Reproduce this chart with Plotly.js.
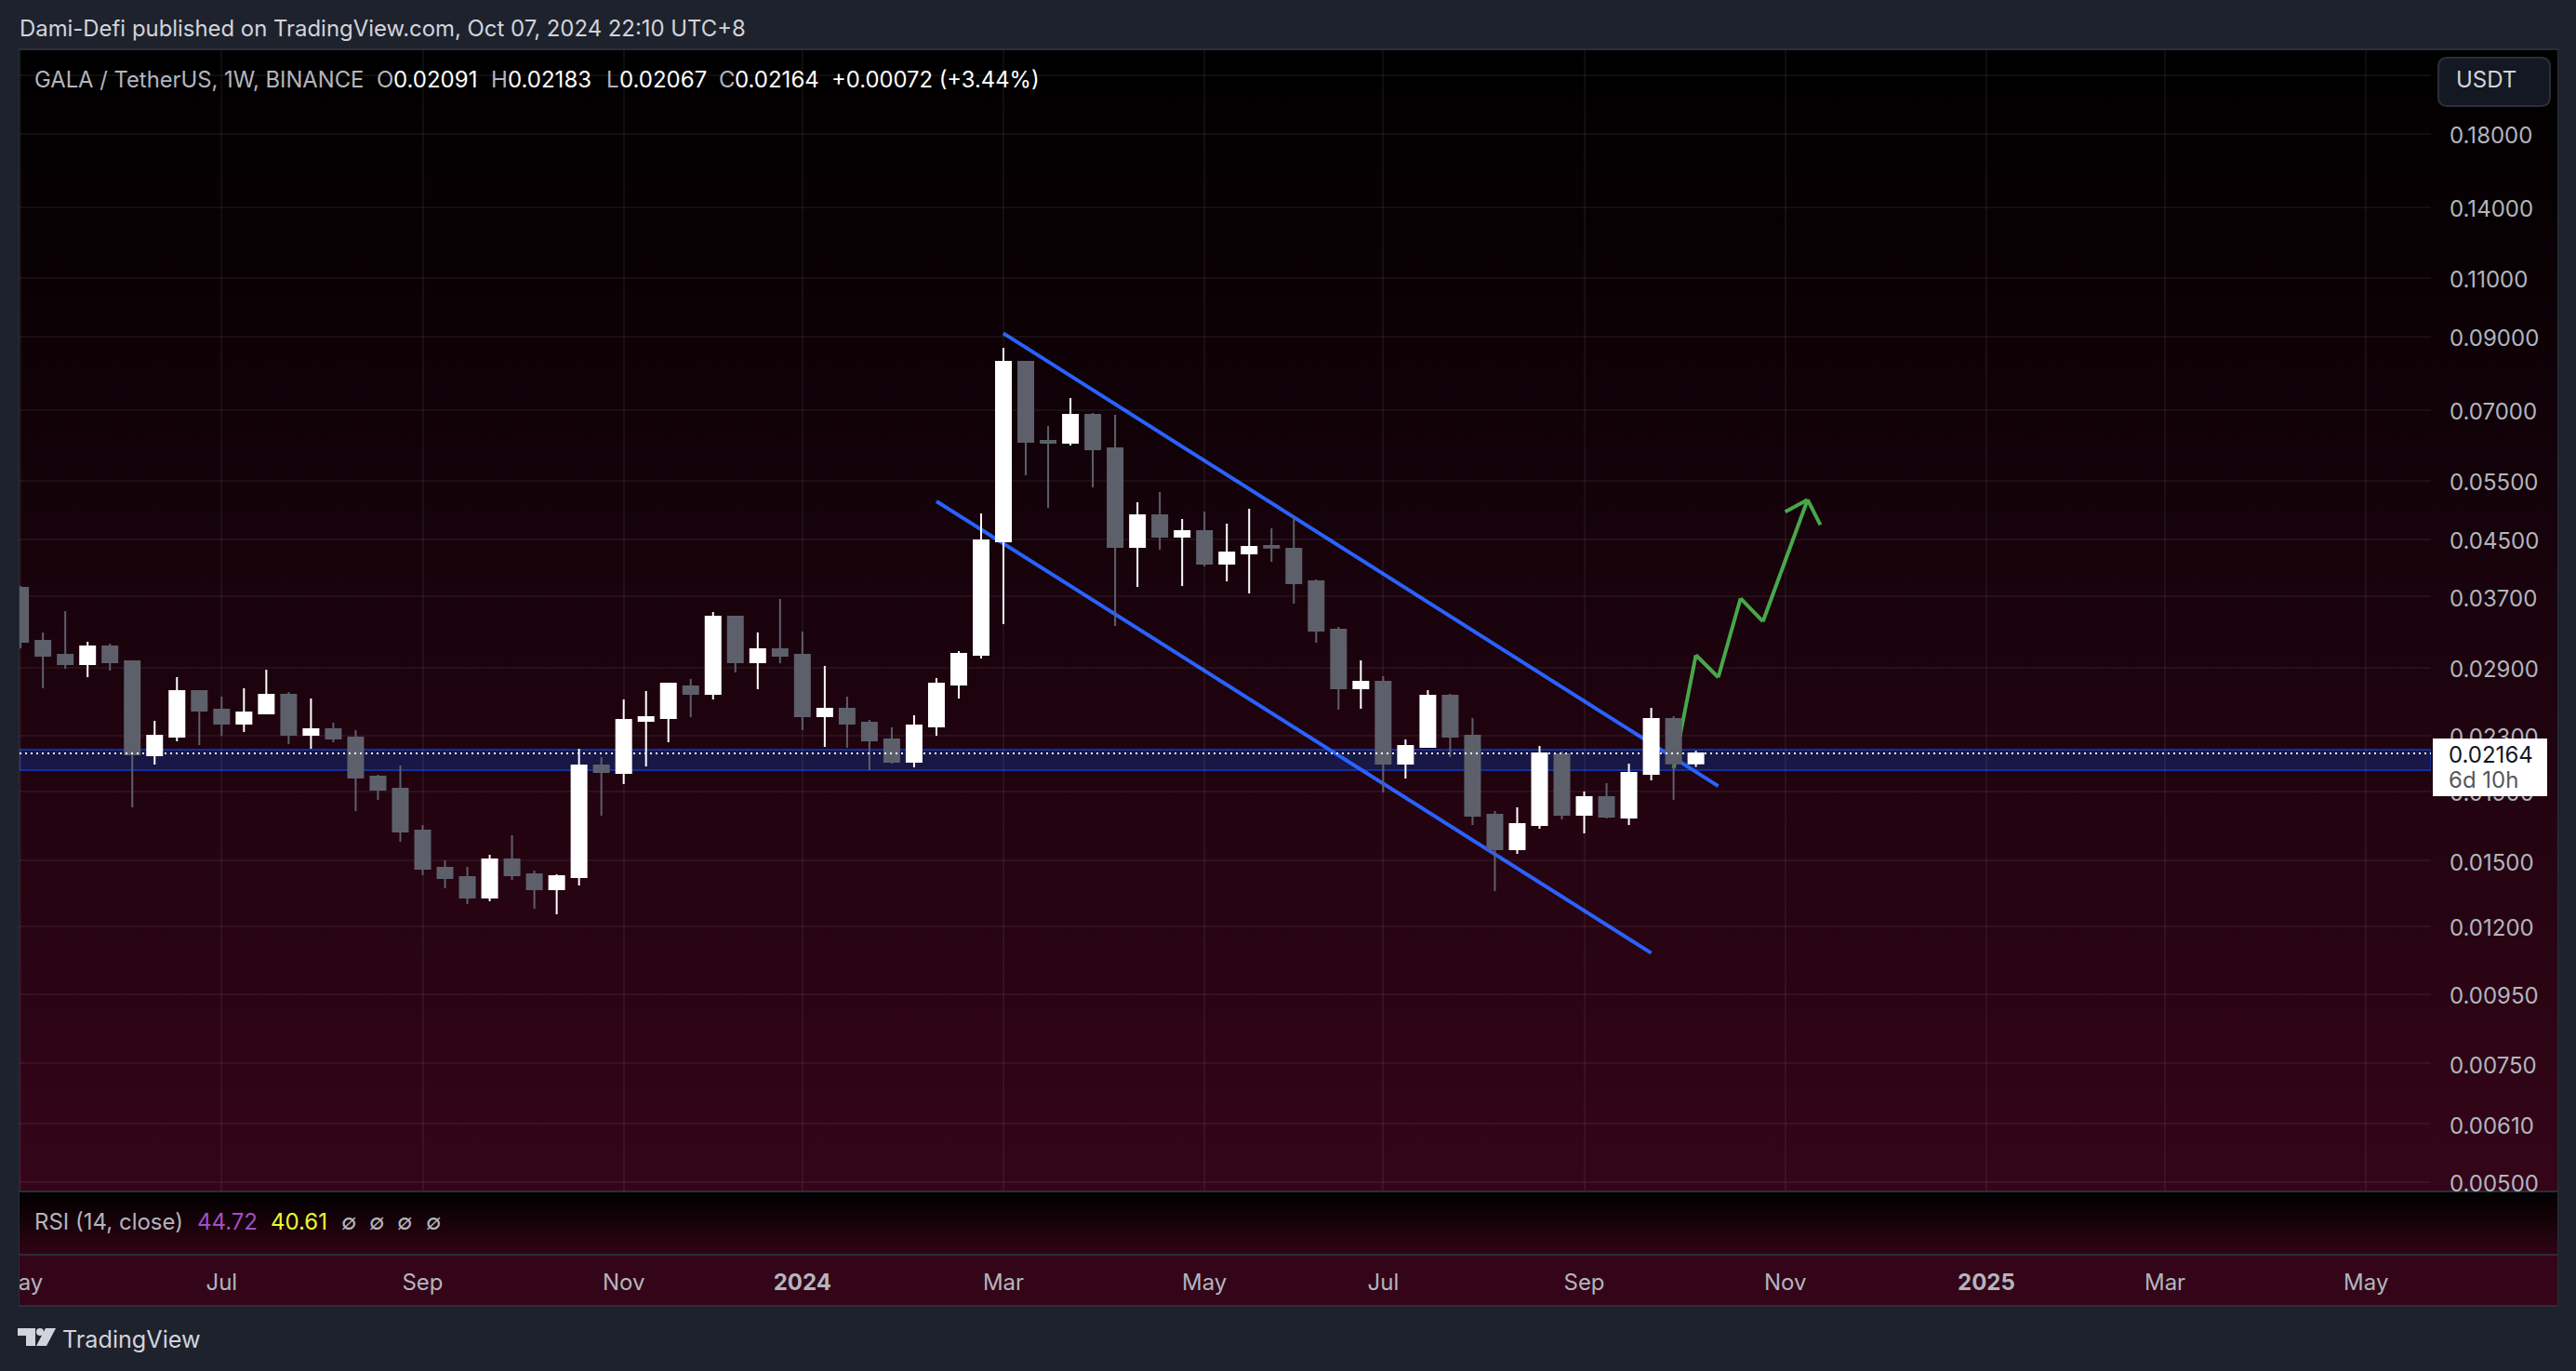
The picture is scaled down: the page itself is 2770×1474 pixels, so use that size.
<!DOCTYPE html>
<html>
<head>
<meta charset="utf-8">
<script src="https://cdn.plot.ly/plotly-3.0.1.min.js"></script>
<style>
html,body{margin:0;padding:0;width:2770px;height:1474px;overflow:hidden;background:#1e222d}
.p{position:absolute}
#frame{left:20px;top:52px;width:2731px;height:1353px;background:#2a2e39}
#pane1{left:21px;top:54px;width:2729px;height:1226px;background:linear-gradient(#000000,#340518)}
#pane2{left:21px;top:1282px;width:2729px;height:66px;background:linear-gradient(#000000,#300414)}
#pane3{left:21px;top:1350px;width:2729px;height:53px;background:#340518}
#chart{left:0;top:0;width:2770px;height:1474px}
</style>
</head>
<body>
<div class="p" id="frame"></div>
<div class="p" id="pane1"></div>
<div class="p" id="pane2"></div>
<div class="p" id="pane3"></div>
<div class="p" id="chart"></div>
<script>
// ---------- data ----------
const dates = [
'2023-05-01','2023-05-08','2023-05-15','2023-05-22','2023-05-29','2023-06-05','2023-06-12','2023-06-19','2023-06-26',
'2023-07-03','2023-07-10','2023-07-17','2023-07-24','2023-07-31','2023-08-07','2023-08-14','2023-08-21','2023-08-28',
'2023-09-04','2023-09-11','2023-09-18','2023-09-25','2023-10-02','2023-10-09','2023-10-16','2023-10-23','2023-10-30',
'2023-11-06','2023-11-13','2023-11-20','2023-11-27','2023-12-04','2023-12-11','2023-12-18','2023-12-25',
'2024-01-01','2024-01-08','2024-01-15','2024-01-22','2024-01-29','2024-02-05','2024-02-12','2024-02-19','2024-02-26',
'2024-03-04','2024-03-11','2024-03-18','2024-03-25','2024-04-01','2024-04-08','2024-04-15','2024-04-22','2024-04-29',
'2024-05-06','2024-05-13','2024-05-20','2024-05-27','2024-06-03','2024-06-10','2024-06-17','2024-06-24',
'2024-07-01','2024-07-08','2024-07-15','2024-07-22','2024-07-29','2024-08-05','2024-08-12','2024-08-19','2024-08-26',
'2024-09-02','2024-09-09','2024-09-16','2024-09-23','2024-09-30','2024-10-07'];
const opens = [
.03812,.03180,.03032,.02937,.03120,.02965,.02151,.02292,.02679,
.02513,.02396,.02482,.02645,.02307,.02351,.02285,.01999,.01918,
.01663,.01464,.01418,.01322,.01507,.01432,.01361,.01418,.02077,
.02025,.02419,.02443,.02721,.02653,.03454,.02956,.03090,
.03032,.02458,.02521,.02404,.02270,.02104,.02374,.02739,.03032,
.04468,.08253,.06299,.06259,.06885,.06141,.04384,.04884,.04540,
.04627,.04140,.04287,.04398,.04356,.03898,.03304,.02704,
.02765,.02090,.02213,.02636,.02299,.01755,.01560,.01695,.02158,
.01755,.01864,.01738,.02018,.02435,.02091];
const highs = [
.03836,.03272,.03521,.03170,.03150,.02965,.02419,.02809,.02687,
.02628,.02704,.02882,.02670,.02611,.02404,.02344,.02012,.02077,
.01695,.01502,.01469,.01531,.01636,.01450,.01432,.02199,.02137,
.02603,.02679,.02747,.02791,.03509,.03454,.03272,.03669,
.03283,.02919,.02628,.02427,.02366,.02466,.02800,.03071,.04915,
.08656,.08253,.06627,.07291,.06929,.06885,.05107,.05288,.04823,
.04947,.04746,.04994,.04672,.04869,.03922,.03335,.02975,
.02818,.02270,.02687,.02653,.02443,.01777,.01800,.02220,.02178,
.01900,.01955,.02090,.02529,.02458,.02183];
const lows = [
.03100,.02704,.02891,.02809,.02873,.01800,.02084,.02256,.02227,
.02299,.02329,.02474,.02235,.02199,.02249,.01777,.01846,.01600,
.01427,.01365,.01293,.01306,.01405,.01273,.01249,.01378,.01749,
.01949,.02070,.02249,.02450,.02603,.02854,.02696,.02946,
.02344,.02213,.02206,.02044,.02090,.02064,.02299,.02611,.02994,
.03367,.05600,.05010,.06199,.05373,.03346,.03824,.04342,.03836,
.04101,.03898,.03740,.04167,.03611,.03160,.02513,.02521,
.01894,.01987,.02206,.02137,.01695,.01352,.01535,.01673,.01727,
.01647,.01733,.01695,.01974,.01846,.02067];
const closes = [
.03170,.03022,.02937,.03120,.02956,.02158,.02299,.02679,.02506,
.02396,.02490,.02645,.02307,.02351,.02278,.01993,.01912,.01657,
.01459,.01414,.01322,.01507,.01427,.01361,.01423,.02077,.02031,
.02427,.02450,.02747,.02653,.03454,.02956,.03090,.03022,
.02458,.02521,.02396,.02263,.02104,.02381,.02747,.03042,.04483,
.08253,.06279,.06259,.06885,.06121,.04384,.04884,.04540,.04627,
.04140,.04301,.04384,.04375,.03873,.03293,.02704,.02765,
.02090,.02220,.02636,.02292,.01749,.01560,.01700,.02165,.01755,
.01864,.01744,.02025,.02435,.02092,.02164];

const tickDates  = ['2023-05-01','2023-07-03','2023-09-04','2023-11-06','2024-01-01','2024-03-04','2024-05-06','2024-07-01','2024-09-02','2024-11-04','2025-01-06','2025-03-03','2025-05-05'];
const tickLabels = ['May','Jul','Sep','Nov','<b>2024</b>','Mar','May','Jul','Sep','Nov','<b>2025</b>','Mar','May'];
const priceTicks = [0.22,0.18,0.14,0.11,0.09,0.07,0.055,0.045,0.037,0.029,0.023,0.019,0.015,0.012,0.0095,0.0075,0.0061,0.005];
const priceLabels= ['','0.18000','0.14000','0.11000','0.09000','0.07000','0.05500','0.04500','0.03700','0.02900','0.02300','0.01900','0.01500','0.01200','0.00950','0.00750','0.00610','0.00500'];

const upperDates = ['2024-03-04','2024-10-14'];
const upperPrices= [0.09098,0.01936];
const lowerDates = ['2024-02-12','2024-09-23'];
const lowerPrices= [0.05123,0.01094];
const arrowDates = ['2024-09-30','2024-10-07','2024-10-14','2024-10-21','2024-10-28','2024-11-11'];
const arrowPrices= [0.02057,0.03029,0.02807,0.03677,0.03397,0.05151];
const headDates  = ['2024-11-04','2024-11-11','2024-11-15'];
const headPrices = [0.04942,0.05151,0.04727];
const zoneTop = 0.02192, zoneBottom = 0.02044;
const lastPrice = 0.02164;

const xRange = ['2023-04-30 16:00','2025-05-25 08:00'];
const yRange = [-2.31356,-0.62089];

// ---------- helpers ----------
const W=2770,H=1474;
const px=x=>x/W, py=y=>1-y/H;
const INK='#b2b5be';
function txt(text,x,y,color,size,extra){
  return Object.assign({xref:'paper',yref:'paper',x:px(x),y:py(y),text:text,showarrow:false,xanchor:'left',yanchor:'middle',
    borderpad:0,borderwidth:0,font:{family:'Inter, sans-serif',size:size||24,color:color}},extra||{});
}
function poly(pts,color){
  const d=pts.map((p,i)=>(i?'L':'M')+px(p[0]).toFixed(6)+','+py(p[1]).toFixed(6)).join(' ')+' Z';
  return {type:'path',xref:'paper',yref:'paper',path:d,fillcolor:color,line:{width:0},layer:'above'};
}
function box(x0,y0,x1,y1,color){
  return {type:'rect',xref:'paper',yref:'paper',x0:px(x0),x1:px(x1),y0:py(y0),y1:py(y1),fillcolor:color,line:{width:0},layer:'above'};
}
function roundRect(x0,y0,x1,y1,r,fill,stroke){
  const P=(x,y)=>px(x).toFixed(6)+','+py(y).toFixed(6);
  const d='M'+P(x0+r,y0)+' L'+P(x1-r,y0)+' Q'+P(x1,y0)+' '+P(x1,y0+r)+' L'+P(x1,y1-r)+' Q'+P(x1,y1)+' '+P(x1-r,y1)+
          ' L'+P(x0+r,y1)+' Q'+P(x0,y1)+' '+P(x0,y1-r)+' L'+P(x0,y0+r)+' Q'+P(x0,y0)+' '+P(x0+r,y0)+' Z';
  return {type:'path',xref:'paper',yref:'paper',path:d,fillcolor:fill,line:{width:stroke?2:0,color:stroke||fill},layer:'above'};
}
function segs(xs,ys,color,width){
  const out=[];
  for(let i=0;i<xs.length-1;i++){
    out.push({type:'line',xref:'x',yref:'y',x0:xs[i],x1:xs[i+1],y0:ys[i],y1:ys[i+1],layer:'below',line:{color:color,width:width}});
  }
  return out;
}

// ---------- traces ----------
const candles={type:'candlestick',x:dates,open:opens,high:highs,low:lows,close:closes,
  whiskerwidth:0,hoverinfo:'skip',
  increasing:{line:{color:'#ffffff',width:2},fillcolor:'#ffffff'},
  decreasing:{line:{color:'#5d606b',width:2},fillcolor:'#5d606b'}};
const lastLine={type:'scatter',mode:'lines',x:xRange,y:[lastPrice,lastPrice],hoverinfo:'skip',
  line:{color:'#ffffff',width:2,dash:'2px,4px'}};

// ---------- shapes ----------
const shapes=[
  {type:'rect',xref:'x',yref:'y',x0:xRange[0],x1:xRange[1],y0:zoneBottom,y1:zoneTop,layer:'below',fillcolor:'#181745',line:{color:'#12309e',width:2}},
  ...segs(upperDates,upperPrices,'#2962ff',4),
  ...segs(lowerDates,lowerPrices,'#2962ff',4),
  ...segs(arrowDates,arrowPrices,'#46a84a',4),
  ...segs(headDates,headPrices,'#46a84a',4),
  box(0,1350,20,1403,'#1e222d'),
  box(20,1350,21,1403,'#2a2e39'),
  box(2616,794,2739,856,'#ffffff'),
  roundRect(2622,62,2742,114,10,'#141822','#2a2e39'),
  // TradingView logo
  poly([[19,1428],[38,1428],[38,1447],[28,1447],[28,1436],[19,1436]],'#d1d4dc'),
  poly([[49,1428],[60,1428],[50,1447],[39,1447]],'#d1d4dc'),
  {type:'circle',xref:'paper',yref:'paper',x0:px(39),x1:px(47),y0:py(1436),y1:py(1428),fillcolor:'#d1d4dc',line:{width:0},layer:'above'}
];

// ---------- text ----------
const annotations=[
  txt('Dami-Defi published on TradingView.com, Oct 07, 2024 22:10 UTC+8',21,31,'#d1d4dc',23.9),
  txt('GALA / TetherUS, 1W, BINANCE',37,85.5,INK,23.8),
  txt('O',405,85.5,INK,24), txt('0.02091',423,85.5,'#ffffff',24),
  txt('H',528,85.5,INK,24), txt('0.02183',546,85.5,'#ffffff',24),
  txt('L',652,85.5,INK,24), txt('0.02067',666,85.5,'#ffffff',24),
  txt('C',773,85.5,INK,24), txt('0.02164',790,85.5,'#ffffff',24),
  txt('+0.00072 (+3.44%)',894,85.5,'#ffffff',23.8),
  txt('USDT',2641,85.5,'#d1d4dc',24),
  txt('0.02164',2633,811,'#131722',24),
  txt('6d 10h',2633,838,'#555860',24),
  txt('RSI (14, close)',37,1313,INK,24),
  txt('44.72',212,1313,'#a04fc8',24),
  txt('40.61',291,1313,'#e4ff2e',24),
  txt('∅',367,1313,INK,24), txt('∅',397,1313,INK,24), txt('∅',427,1313,INK,24), txt('∅',458,1313,INK,24),
  txt('TradingView',67,1440,'#d1d4dc',25.2)
];

const grid='rgba(240,243,250,0.06)';
const layout={
  width:W,height:H,paper_bgcolor:'rgba(0,0,0,0)',plot_bgcolor:'rgba(0,0,0,0)',showlegend:false,
  boxgap:0.334,boxgroupgap:0,
  margin:{l:0,r:0,t:0,b:0,pad:0},
  xaxis:{type:'date',domain:[21/W,2614/W],range:xRange,rangeslider:{visible:false},fixedrange:true,
    tickmode:'array',tickvals:tickDates,ticktext:tickLabels,ticks:'',showline:false,zeroline:false,
    showgrid:true,gridcolor:grid,gridwidth:2,ticklabelstandoff:82,ticklabeloverflow:'allow',
    tickfont:{family:'Inter, sans-serif',size:24,color:INK}},
  yaxis:{type:'log',domain:[(H-1280)/H,(H-54)/H],range:yRange,side:'right',fixedrange:true,
    tickmode:'array',tickvals:priceTicks,ticktext:priceLabels,ticks:'',showline:false,zeroline:false,
    showgrid:true,gridcolor:grid,gridwidth:2,ticklabelstandoff:19,ticklabelshift:2,ticklabeloverflow:'allow',
    tickfont:{family:'Inter, sans-serif',size:24,color:INK}},
  shapes:shapes,annotations:annotations
};
Plotly.newPlot('chart',[candles,lastLine],layout,{displayModeBar:false,staticPlot:true});
</script>
</body>
</html>
